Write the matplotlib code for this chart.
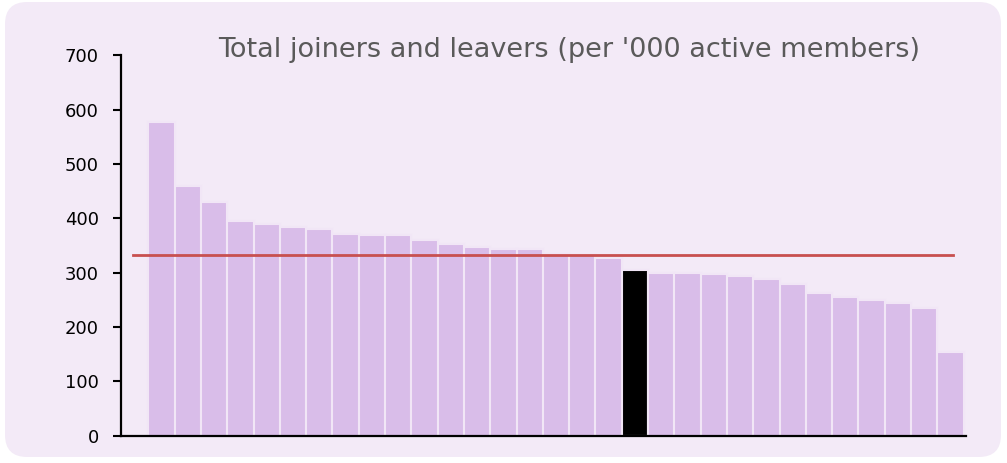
"""Total joiners and leavers bar chart."""
import matplotlib

matplotlib.use("Agg")
import matplotlib.pyplot as plt
import numpy as np
from matplotlib.patches import FancyBboxPatch

# values, sorted high to low
values = [577, 459, 430, 395, 390, 384, 380, 372, 370, 369, 361, 353, 348, 343, 343,
          334, 332, 327, 305, 300, 299, 297, 293, 289, 279, 263, 255, 250, 244, 235, 154]
highlight = 18  # index of the black bar
average = 333
yticks = [0, 100, 200, 300, 400, 500, 600, 700]
title = "Total joiners and leavers (per '000 active members)"

BG = "#f3eaf7"
BAR = "#d9bde9"
LINE = "#c8504f"

W, H = 1007, 463
fig = plt.figure(figsize=(W / 100, H / 100), dpi=100)
fig.patch.set_facecolor("white")

# rounded panel behind the chart
panel = FancyBboxPatch((5 / W, 6 / H), 996 / W, 455 / H,
                       boxstyle="round,pad=0,rounding_size=0.022",
                       transform=fig.transFigure, facecolor=BG, edgecolor="none",
                       mutation_aspect=W / H, zorder=-5)
fig.patches.append(panel)

ax = fig.add_axes([121 / W, 1 - 435.7 / H, (966 - 121) / W, (435.7 - 55.3) / H])
ax.set_facecolor("none")
ax.set_zorder(2)

x = np.arange(len(values))
colors = [BAR] * len(values)
colors[highlight] = "black"
ax.bar(x, values, width=1.0, color=colors, edgecolor="#f1e6f6", linewidth=1.5, zorder=2)
ax.plot([-1.07, 30.1], [average, average], color=LINE, linewidth=2.0, zorder=3)

ax.set_xlim(-1.54, 30.59)
ax.set_ylim(0, 700)
ax.set_yticks(yticks)
ax.set_xticks([])
ax.tick_params(axis="y", length=6, width=1.5, pad=10, labelsize=13, colors="black")
for s in ("top", "right"):
    ax.spines[s].set_visible(False)
for s in ("left", "bottom"):
    ax.spines[s].set_linewidth(1.6)
    ax.spines[s].set_color("black")

fig.text(569.5 / W, 1 - 57 / H, title, ha="center", va="baseline",
         fontsize=19.5, color="#5a5a5a")

fig.savefig("out.png", dpi=100)
